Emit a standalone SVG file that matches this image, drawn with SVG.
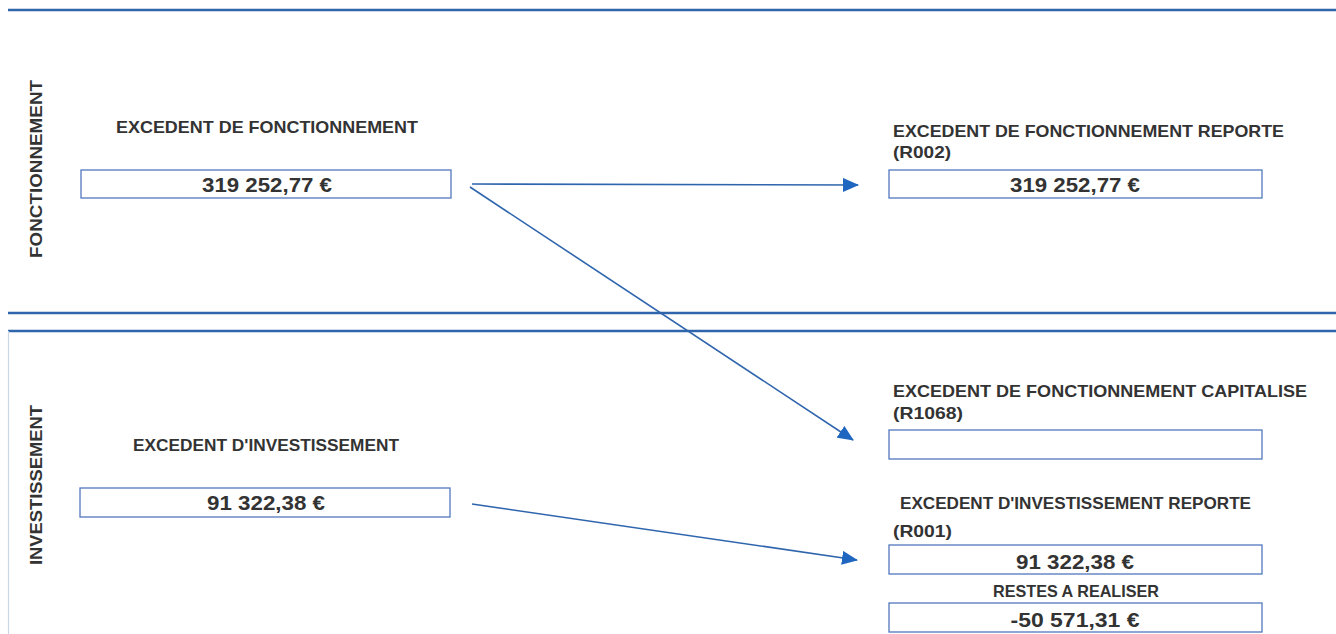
<svg xmlns="http://www.w3.org/2000/svg" width="1336" height="634" viewBox="0 0 1336 634">
<defs>
<style>
.sep{stroke:#2f65ad;stroke-width:2.5;fill:none}
.box{fill:#fff;stroke:#5277bd;stroke-width:1.3}
.lbl{font-family:"Liberation Sans",Arial,sans-serif;font-weight:bold;font-size:16.5px;fill:#333}
.val{font-family:"Liberation Sans",Arial,sans-serif;font-weight:bold;font-size:19.5px;fill:#333;text-anchor:middle}
.side{font-family:"Liberation Sans",Arial,sans-serif;font-weight:bold;font-size:17px;fill:#333;text-anchor:middle}
.conn{stroke:#2f65ad;stroke-width:1.6;fill:none}
</style>
<marker id="ah" markerWidth="16" markerHeight="14" refX="15" refY="7" orient="auto" markerUnits="userSpaceOnUse">
<path d="M0,0 L16,7 L0,14 Z" fill="#1f66c0"/>
</marker>
</defs>
<rect width="1336" height="634" fill="#fff"/>
<g id="frame">
<line class="sep" x1="8" y1="10" x2="1336" y2="10"/>
<line class="sep" x1="8" y1="313" x2="1336" y2="313"/>
<line class="sep" x1="8" y1="331" x2="1336" y2="331"/>
<line x1="8.5" y1="331" x2="8.5" y2="634" stroke="#c9d6e8" stroke-width="1.2"/>
</g>
<g id="section-fonctionnement"><text class="side" transform="translate(42,169) rotate(-90)" textLength="178" lengthAdjust="spacingAndGlyphs">FONCTIONNEMENT</text></g>
<g id="section-investissement"><text class="side" transform="translate(42,485) rotate(-90)" textLength="160" lengthAdjust="spacingAndGlyphs">INVESTISSEMENT</text></g>
<g id="node-excedent-fonct">
<text class="lbl" x="116" y="133" textLength="302" lengthAdjust="spacingAndGlyphs">EXCEDENT DE FONCTIONNEMENT</text>
<rect class="box" x="81" y="170" width="370" height="28"/>
<text class="val" x="267" y="192" textLength="130" lengthAdjust="spacingAndGlyphs">319 252,77 €</text>
</g>
<g id="node-r002">
<text class="lbl" x="893" y="137" textLength="391" lengthAdjust="spacingAndGlyphs">EXCEDENT DE FONCTIONNEMENT REPORTE</text>
<text class="lbl" x="893" y="158" textLength="58" lengthAdjust="spacingAndGlyphs">(R002)</text>
<rect class="box" x="889" y="170" width="373" height="28"/>
<text class="val" x="1075" y="192" textLength="130" lengthAdjust="spacingAndGlyphs">319 252,77 €</text>
</g>
<g id="node-r1068">
<text class="lbl" x="893" y="397" textLength="414" lengthAdjust="spacingAndGlyphs">EXCEDENT DE FONCTIONNEMENT CAPITALISE</text>
<text class="lbl" x="893" y="419" textLength="70" lengthAdjust="spacingAndGlyphs">(R1068)</text>
<rect class="box" x="889" y="430" width="373" height="29"/>
</g>
<g id="node-excedent-invest">
<text class="lbl" x="133" y="451" textLength="266" lengthAdjust="spacingAndGlyphs">EXCEDENT D'INVESTISSEMENT</text>
<rect class="box" x="80" y="488" width="370" height="29"/>
<text class="val" x="266" y="510" textLength="118" lengthAdjust="spacingAndGlyphs">91 322,38 €</text>
</g>
<g id="node-r001">
<text class="lbl" x="900" y="509" textLength="351" lengthAdjust="spacingAndGlyphs">EXCEDENT D'INVESTISSEMENT REPORTE</text>
<text class="lbl" x="893" y="537" textLength="59" lengthAdjust="spacingAndGlyphs">(R001)</text>
<rect class="box" x="889" y="545" width="373" height="29"/>
<text class="val" x="1075" y="569" textLength="118" lengthAdjust="spacingAndGlyphs">91 322,38 €</text>
</g>
<g id="node-restes">
<text class="lbl" x="1076" y="597" text-anchor="middle" textLength="166" lengthAdjust="spacingAndGlyphs">RESTES A REALISER</text>
<rect class="box" x="889" y="603" width="373" height="29"/>
<text class="val" x="1075" y="627" textLength="129" lengthAdjust="spacingAndGlyphs">-50 571,31 €</text>
</g>
<g id="connectors">
<line class="conn" x1="472" y1="184" x2="858" y2="185" marker-end="url(#ah)"/>
<line class="conn" x1="470" y1="187" x2="853" y2="440" marker-end="url(#ah)"/>
<line class="conn" x1="472" y1="504" x2="857" y2="560" marker-end="url(#ah)"/>
</g>
</svg>
